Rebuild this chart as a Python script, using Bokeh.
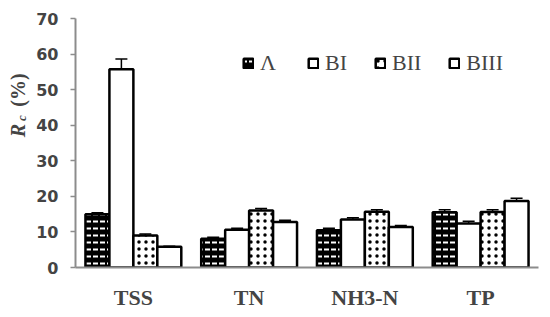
from bokeh.plotting import figure
from bokeh.layouts import row
from bokeh.models import (ColumnDataSource, FactorRange, Range1d, FixedTicker, Whisker,
                          Legend, LegendItem, Label)
from bokeh.transform import dodge
from bokeh.embed import file_html
from bokeh.resources import INLINE

categories = ["TSS", "TN", "NH3-N", "TP"]
series_names = ["Λ", "BI", "BII", "BIII"]
A_vals = [15.0, 8.1, 10.5, 15.5]
BI_vals = [55.7, 10.6, 13.5, 12.4]
BII_vals = [9.0, 16.0, 15.7, 15.6]
BIII_vals = [5.8, 12.8, 11.4, 18.7]
A_err = [0.4, 0.4, 0.5, 0.7]
BI_err = [2.9, 0.4, 0.5, 0.6]
BII_err = [0.4, 0.6, 0.5, 0.6]
BIII_err = [0.2, 0.5, 0.4, 0.8]
y_ticks = [0, 10, 20, 30, 40, 50, 60, 70]

# --- narrow side figure that only carries the rotated y-axis title ---
t = figure(width=30, height=317, x_range=Range1d(0, 30), y_range=Range1d(0, 317),
           x_axis_type=None, y_axis_type=None, output_backend="svg", toolbar_location=None,
           min_border=0, min_border_left=0, min_border_right=0, min_border_top=0, min_border_bottom=0)
t.outline_line_color = None
t.xgrid.visible = False
t.ygrid.visible = False
lab_R = Label(x=17, y=137, x_units="screen", y_units="screen", text="R", angle=90, angle_units="deg",
              text_font="Liberation Serif", text_font_style="bold italic", text_font_size="20px",
              text_align="center", text_baseline="middle")
lab_c = Label(x=21, y=149.5, x_units="screen", y_units="screen", text="c", angle=90, angle_units="deg",
              text_font="Liberation Serif", text_font_style="bold italic", text_font_size="13px",
              text_align="center", text_baseline="middle")
lab_p = Label(x=17.5, y=177.5, x_units="screen", y_units="screen", text="(%)", angle=90, angle_units="deg",
              text_font="Liberation Serif", text_font_style="bold", text_font_size="20px",
              text_align="center", text_baseline="middle")
for l in (lab_R, lab_c, lab_p):
    t.add_layout(l)

# --- main chart ---
p = figure(width=520, height=317, x_range=FactorRange(*categories, range_padding=0),
           y_range=Range1d(0, 70), output_backend="svg", toolbar_location=None,
           min_border_left=45, min_border_right=12, min_border_top=18, min_border_bottom=50)
p.outline_line_color = None
p.xgrid.visible = False
p.ygrid.visible = False

bw = 0.207
offsets = [-1.5 * bw, -0.5 * bw, 0.5 * bw, 1.5 * bw]
vals = [A_vals, BI_vals, BII_vals, BIII_vals]
errs = [A_err, BI_err, BII_err, BIII_err]
styles = [
    dict(fill_color="black", hatch_pattern="horizontal_dash", hatch_color="white", hatch_scale=7, hatch_weight=2),
    dict(fill_color="white"),
    dict(fill_color="white", hatch_pattern="dot", hatch_color="black", hatch_scale=7, hatch_weight=3),
    dict(fill_color="white"),
]
items = []
for i in range(4):
    src = ColumnDataSource(dict(cat=categories, v=vals[i],
                                lo=[a - b for a, b in zip(vals[i], errs[i])],
                                hi=[a + b for a, b in zip(vals[i], errs[i])]))
    r = p.vbar(x=dodge("cat", offsets[i], range=p.x_range), top="v", width=bw, source=src,
               line_color="black", line_width=2.5, **styles[i])
    w = Whisker(base=dodge("cat", offsets[i], range=p.x_range), upper="hi", lower="lo", source=src,
                line_color="black", line_width=1.5)
    w.upper_head.size = 12
    w.lower_head.size = 12
    w.upper_head.line_width = 1.5
    w.lower_head.line_width = 1.5
    p.add_layout(w)
    items.append(LegendItem(label=series_names[i], renderers=[r]))

legend = Legend(items=items, orientation="horizontal", location=(167, 191),
                glyph_width=12, glyph_height=12, label_standoff=6, spacing=27,
                padding=0, margin=0, border_line_color=None, background_fill_alpha=0,
                label_text_font="Liberation Serif", label_text_font_size="22px",
                label_height=20)
p.add_layout(legend, "center")

p.yaxis.ticker = FixedTicker(ticks=y_ticks)
p.yaxis.axis_line_color = "#8c8c8c"
p.yaxis.axis_line_width = 2
p.yaxis.major_tick_line_color = "#8c8c8c"
p.yaxis.major_tick_line_width = 1.5
p.yaxis.major_tick_out = 5
p.yaxis.major_tick_in = 0
p.yaxis.minor_tick_line_color = None
p.yaxis.major_label_text_font = "DejaVu Sans"
p.yaxis.major_label_text_font_style = "bold"
p.yaxis.major_label_text_font_size = "16px"
p.yaxis.major_label_standoff = 12

p.xaxis.axis_line_color = "#8c8c8c"
p.xaxis.axis_line_width = 2
p.xaxis.major_tick_line_color = None
p.xaxis.minor_tick_line_color = None
p.xaxis.major_label_text_font = "Liberation Serif"
p.xaxis.major_label_text_font_style = "bold"
p.xaxis.major_label_text_font_size = "22px"
p.xaxis.major_label_standoff = 11

layout = row(t, p, spacing=0)
open("out.html", "w").write(file_html(layout, INLINE))
